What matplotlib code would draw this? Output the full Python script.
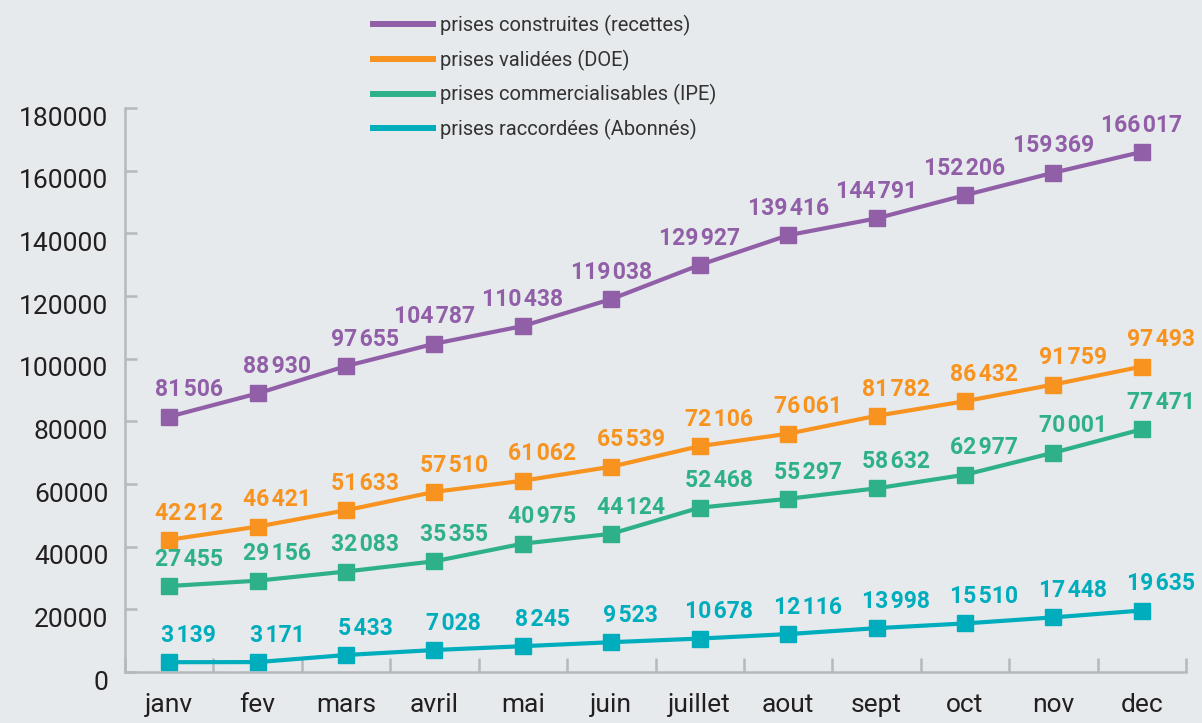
# agents/chart_agent.py
import numpy as np
import matplotlib.pyplot as plt
import matplotlib.transforms as mtransforms
from matplotlib.lines import Line2D
import os

class ChartAgent:
    def __init__(self, series):
        self.series = series

    def run(self, months, output_dir='.'):
        plt.rcParams['font.family'] = 'Roboto'
        bg = '#e6eaec'
        axis_grey = '#b6b9bb'
        x = np.arange(len(months))
        fig = plt.figure(figsize=(12.02, 7.23), dpi=100, facecolor=bg)
        ax = fig.add_axes([0.104, 0.0705, 0.8827, 0.780], facecolor=bg)
        handles = []
        for name, (values, color) in self.series.items():
            plt.plot(x, values, color=color, lw=3, marker='s', ms=11.5, zorder=3)
            for i, v in enumerate(values):
                dx = 14 if v < 100000 else 0  # short numbers sit right of the point
                txt = f"{v:,}".replace(',', '\u200a')
                plt.annotate(txt, (i, v), xytext=(dx, 11), textcoords='offset points',
                             ha='center', va='bottom', fontsize=16.5, fontweight='bold', color=color)
            handles.append(Line2D([], [], color=color, lw=4.3, label=name))
        plt.xlim(-0.5, len(months) - 0.5)
        plt.ylim(0, 180000)
        plt.yticks(np.arange(0, 180001, 20000), fontsize=19, color='#231f20')
        plt.xticks(x, months, fontsize=19, color='#231f20')
        ax.set_xticks(np.arange(-0.5, len(months), 1), minor=True)
        ax.tick_params(axis='x', which='major', length=0, pad=15)
        ax.tick_params(axis='x', which='minor', direction='in', length=10, width=1.8, color=axis_grey)
        ax.tick_params(axis='y', direction='in', length=8.5, width=1.8, color=axis_grey, pad=12)
        offset = mtransforms.ScaledTranslation(0, -8 / 100, fig.dpi_scale_trans)
        for label in ax.get_yticklabels():
            label.set_transform(label.get_transform() + offset)
        for side in ['top', 'right']:
            ax.spines[side].set_visible(False)
        for side in ['left', 'bottom']:
            ax.spines[side].set_color(axis_grey)
            ax.spines[side].set_linewidth(1.8)
        plt.legend(handles=handles, loc='upper left', bbox_to_anchor=(0.298, 1.0),
                   bbox_transform=fig.transFigure, frameon=False, fontsize=14.5,
                   labelcolor='#333333', handlelength=2.95, handletextpad=0.35,
                   labelspacing=0.67, borderpad=0.25)
        os.makedirs(output_dir, exist_ok=True)
        plot_path = os.path.join(output_dir, 'out.png')
        plt.savefig(plot_path, facecolor=bg)
        plt.close()
        return plot_path


months = ['janv', 'fev', 'mars', 'avril', 'mai', 'juin', 'juillet', 'aout', 'sept', 'oct', 'nov', 'dec']
series = {
    'prises construites (recettes)': ([81506, 88930, 97655, 104787, 110438, 119038, 129927,
                                       139416, 144791, 152206, 159369, 166017], '#915ea8'),
    'prises validées (DOE)': ([42212, 46421, 51633, 57510, 61062, 65539, 72106,
                               76061, 81782, 86432, 91759, 97493], '#f7931e'),
    'prises commercialisables (IPE)': ([27455, 29156, 32083, 35355, 40975, 44124, 52468,
                                        55297, 58632, 62977, 70001, 77471], '#2eb08b'),
    'prises raccordées (Abonnés)': ([3139, 3171, 5433, 7028, 8245, 9523, 10678,
                                     12116, 13998, 15510, 17448, 19635], '#00adbd'),
}
ChartAgent(series).run(months)
